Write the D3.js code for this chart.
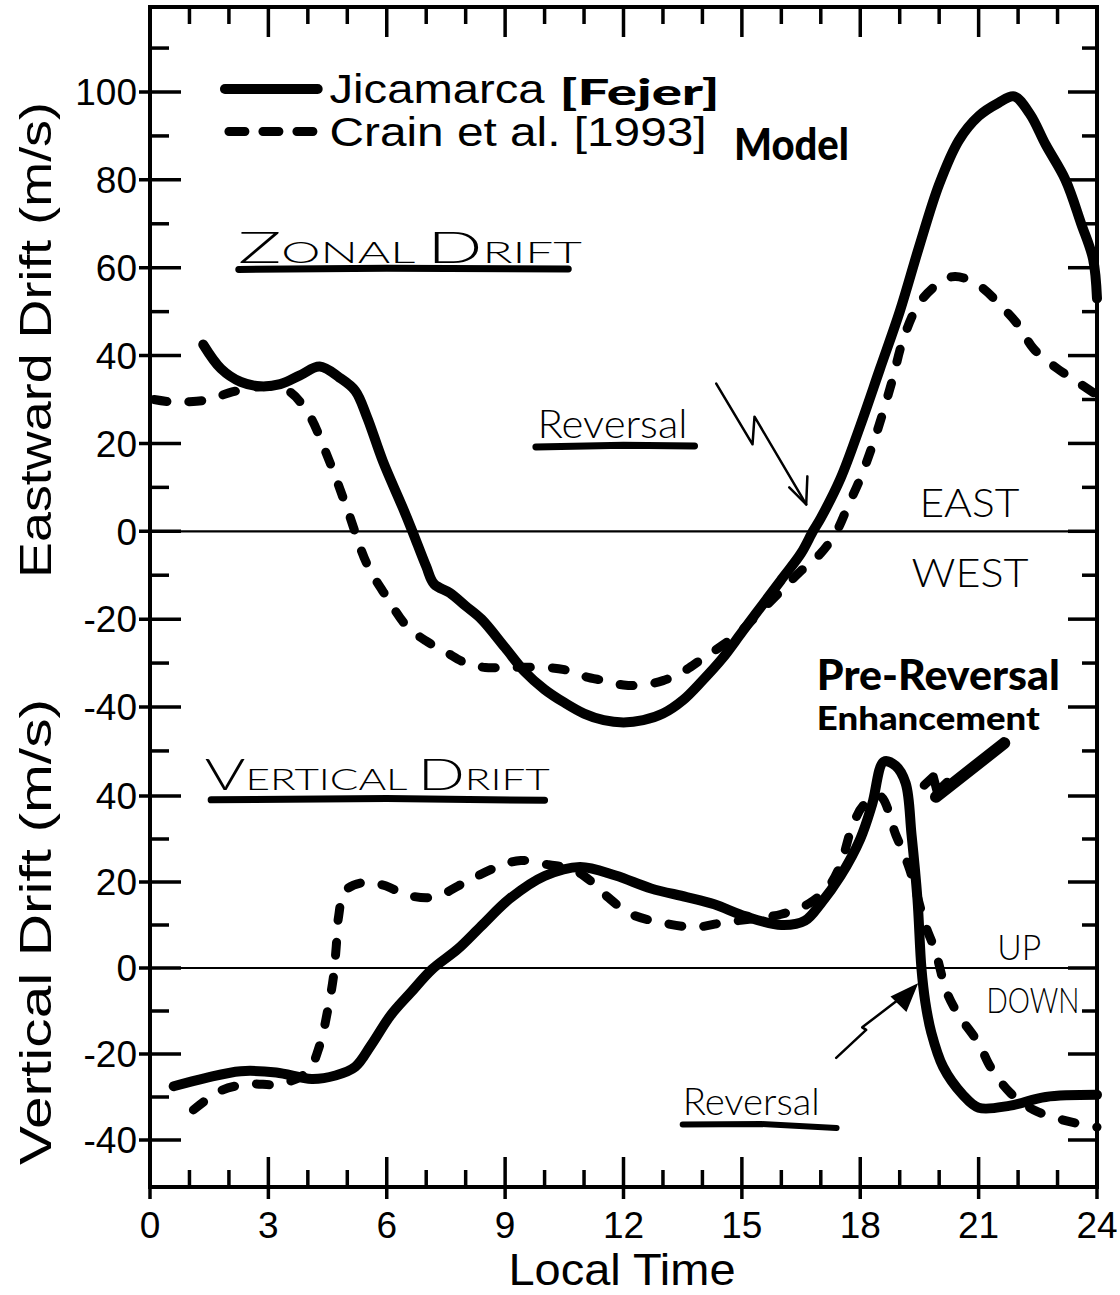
<!DOCTYPE html>
<html>
<head>
<meta charset="utf-8">
<script src="https://cdn.jsdelivr.net/npm/d3@7"></script>
<style>
  body { margin: 0; background: #fff; }
  text { fill: #000; }
</style>
</head>
<body>
<div id="container"></div>
<script>
const width = 1120,
      height = 1295,
      frame = { left: 150, right: 1097, top: 7, bottom: 1187 };

// [local time (h), drift (m/s)]
const zonalJicamarca = [
  [1.35, 42.5], [1.8, 37], [2.3, 34], [2.8, 33], [3.3, 33.5], [3.8, 35.5], [4.3, 37.5],
  [4.8, 35], [5.2, 32], [5.5, 26], [5.9, 16], [6.4, 5.5], [6.65, 0], [7.0, -8], [7.2, -12],
  [7.6, -14], [8.0, -17], [8.4, -20], [9.0, -26.5], [9.5, -32], [10.0, -36], [10.5, -39],
  [11.0, -41.5], [11.5, -43], [12.0, -43.5], [12.5, -43], [13.0, -41.5], [13.5, -38.5],
  [14.0, -34], [14.5, -29], [15.0, -23], [15.5, -17], [16.0, -11], [16.5, -5], [16.8, 0],
  [17.0, 3], [17.5, 12], [18.0, 24], [18.5, 37], [19.0, 50], [19.5, 65], [20.0, 79],
  [20.5, 89], [21.0, 94.5], [21.5, 97.5], [21.9, 99], [22.3, 95], [22.7, 88], [23.2, 80],
  [23.6, 70], [23.9, 62], [24.0, 53]
];
const zonalModel = [
  [0.1, 30], [0.5, 29.5], [1.0, 29.5], [1.5, 30], [2.0, 31.5], [2.5, 32.5], [3.0, 33],
  [3.5, 32], [4.0, 27], [4.5, 17], [5.0, 5], [5.5, -7.5], [6.0, -15], [6.5, -21.5],
  [7.0, -25], [7.5, -27.5], [8.0, -30], [8.5, -31], [9.0, -31], [10.0, -31], [10.5, -31.5],
  [11.0, -33], [11.5, -34], [12.0, -35], [12.5, -35], [13.0, -34], [13.5, -32], [14.0, -29],
  [14.5, -26], [15.0, -22.5], [15.5, -18], [16.0, -13.5], [16.5, -9], [17.0, -5], [17.4, 0],
  [17.7, 6], [18.0, 12], [18.4, 22], [18.8, 34], [19.1, 44], [19.5, 52], [20.0, 56.5],
  [20.4, 58], [21.0, 56], [21.6, 51], [22.0, 47], [22.4, 41.5], [23.0, 37], [23.5, 34],
  [24.0, 31]
];
const verticalJicamarca = [
  [0.6, -27.5], [1.4, -25.6], [2.3, -24], [3.2, -24.3], [4.1, -25.8], [4.7, -25], [5.2, -23],
  [5.6, -18], [6.1, -11], [6.6, -5.8], [7.15, -0.3], [7.8, 4.4], [8.4, 9.8], [9.1, 16],
  [10.0, 21.4], [10.9, 23.5], [11.8, 21.5], [12.7, 18.5], [13.6, 16.5], [14.3, 14.8],
  [15.1, 12], [16.0, 10], [16.6, 11], [17.0, 15], [17.5, 21.4], [18.0, 30], [18.3, 38],
  [18.6, 48], [18.9, 47], [19.15, 43], [19.3, 31], [19.45, 16], [19.55, 0], [19.65, -8],
  [19.8, -15], [20.1, -23], [20.6, -29.5], [21.0, -32.5], [21.8, -32], [22.7, -30],
  [24.0, -29.5]
];
const verticalModel = [
  [1.1, -33], [1.8, -28.5], [2.5, -27], [3.3, -27], [4.0, -24], [4.3, -18], [4.5, -10],
  [4.65, -2], [4.72, 5], [4.78, 12], [4.95, 18], [5.5, 20], [6.0, 19], [6.5, 17], [7.2, 16.5],
  [8.0, 20], [8.8, 23.5], [9.4, 25], [10.1, 24], [10.7, 23], [11.2, 20], [11.6, 16.5],
  [12.2, 12.5], [13.0, 10.5], [13.8, 9.5], [14.5, 10.5], [15.3, 11.5], [16.0, 12.5],
  [16.7, 15], [17.2, 19], [17.5, 24], [17.8, 33], [18.1, 38], [18.5, 40], [18.9, 31],
  [19.25, 23], [19.65, 10], [19.9, 4], [20.2, -5.8], [20.5, -11], [21.0, -17.5], [21.3, -23],
  [21.8, -29], [22.4, -33], [23.2, -35.5], [24.0, -37]
];

const hourTicks = d3.range(0, 25, 1);
const hourLabels = [0, 3, 6, 9, 12, 15, 18, 21, 24];
const zonalTicks = d3.range(-50, 111, 10);
const zonalLabels = [-40, -20, 0, 20, 40, 60, 80, 100];
const verticalTicks = d3.range(-40, 41, 10);
const verticalLabels = [-40, -20, 0, 20, 40];

var svg = d3.select("#container").append("svg")
    .attr("width", width)
    .attr("height", height)
    .style("display", "block");

var x = d3.scaleLinear().domain([0, 24]).range([frame.left, frame.right]);
var yZ = d3.scaleLinear().domain([-40, 100]).range([707, 92]);
var yV = d3.scaleLinear().domain([-40, 40]).range([1140, 796]);

const sans = "'Liberation Sans', Arial, Helvetica, sans-serif";
const hand = "Lato, 'Open Sans', sans-serif";

// frame
svg.append("rect")
    .attr("x", frame.left).attr("y", frame.top)
    .attr("width", frame.right - frame.left)
    .attr("height", frame.bottom - frame.top)
    .attr("fill", "none").attr("stroke", "#000").attr("stroke-width", 4);

// x ticks, top and bottom
hourTicks.forEach(function(h) {
    var major = h % 3 === 0;
    if (h === 0 || h === 24) return;
    svg.append("line")
        .attr("x1", x(h)).attr("x2", x(h))
        .attr("y1", frame.bottom + (major ? 12 : 0))
        .attr("y2", frame.bottom - (major ? 30 : 17))
        .attr("stroke", "#000").attr("stroke-width", 3.5);
    svg.append("line")
        .attr("x1", x(h)).attr("x2", x(h))
        .attr("y1", frame.top)
        .attr("y2", frame.top + (major ? 30 : 17))
        .attr("stroke", "#000").attr("stroke-width", 3.5);
});
// outer tick at 0 and 24 on bottom
[0, 24].forEach(function(h) {
    svg.append("line")
        .attr("x1", x(h)).attr("x2", x(h))
        .attr("y1", frame.bottom).attr("y2", frame.bottom + 12)
        .attr("stroke", "#000").attr("stroke-width", 3.5);
});

svg.append("g").selectAll("text")
    .data(hourLabels)
    .enter().append("text")
    .attr("x", function(d) { return x(d); })
    .attr("y", frame.bottom + 51)
    .attr("text-anchor", "middle")
    .style("font-family", sans).style("font-size", "37px")
    .text(function(d) { return d; });

// y ticks, left and right
function yTicks(scale, ticks, labels) {
    ticks.forEach(function(v) {
        var major = labels.indexOf(v) >= 0;
        svg.append("line")
            .attr("x1", frame.left - (major ? 11 : 0))
            .attr("x2", frame.left + (major ? 31 : 19))
            .attr("y1", scale(v)).attr("y2", scale(v))
            .attr("stroke", "#000").attr("stroke-width", 3.5);
        svg.append("line")
            .attr("x1", frame.right)
            .attr("x2", frame.right - (major ? 29 : 15))
            .attr("y1", scale(v)).attr("y2", scale(v))
            .attr("stroke", "#000").attr("stroke-width", 3.5);
    });
    svg.append("g").selectAll("text")
        .data(labels)
        .enter().append("text")
        .attr("x", frame.left - 13)
        .attr("y", function(d) { return scale(d); })
        .attr("dy", "0.36em")
        .attr("text-anchor", "end")
        .style("font-family", sans).style("font-size", "37px")
        .text(function(d) { return d; });
}
yTicks(yZ, zonalTicks, zonalLabels);
yTicks(yV, verticalTicks, verticalLabels);

// zero lines
[yZ(0), yV(0)].forEach(function(yy) {
    svg.append("line")
        .attr("x1", frame.left).attr("x2", frame.right)
        .attr("y1", yy).attr("y2", yy)
        .attr("stroke", "#000").attr("stroke-width", 2.2);
});

// axis titles
svg.append("text")
    .attr("transform", `translate(${35}, ${340}) rotate(-90)`)
    .attr("text-anchor", "middle").attr("dy", "0.36em")
    .attr("textLength", 476).attr("lengthAdjust", "spacingAndGlyphs")
    .style("font-family", sans).style("font-size", "44px")
    .text("Eastward Drift (m/s)");
svg.append("text")
    .attr("transform", `translate(${35}, ${932}) rotate(-90)`)
    .attr("text-anchor", "middle").attr("dy", "0.36em")
    .attr("textLength", 466).attr("lengthAdjust", "spacingAndGlyphs")
    .style("font-family", sans).style("font-size", "44px")
    .text("Vertical Drift (m/s)");
svg.append("text")
    .attr("x", 622).attr("y", 1285)
    .attr("text-anchor", "middle")
    .attr("textLength", 227).attr("lengthAdjust", "spacingAndGlyphs")
    .style("font-family", sans).style("font-size", "44px")
    .text("Local Time");

// curves
var lineZ = d3.line()
    .x(function(d) { return x(d[0]); })
    .y(function(d) { return yZ(d[1]); })
    .curve(d3.curveCatmullRom.alpha(0.5));
var lineV = d3.line()
    .x(function(d) { return x(d[0]); })
    .y(function(d) { return yV(d[1]); })
    .curve(d3.curveCatmullRom.alpha(0.5));

function solid(path) {
    return path.attr("fill", "none").attr("stroke", "#000")
        .attr("stroke-width", 10).attr("stroke-linecap", "round").attr("stroke-linejoin", "round");
}
function dashed(path) {
    return path.attr("fill", "none").attr("stroke", "#000")
        .attr("stroke-width", 9).attr("stroke-linecap", "round")
        .attr("stroke-dasharray", "13 22");
}

dashed(svg.append("path").datum(zonalModel).attr("d", lineZ));
solid(svg.append("path").datum(zonalJicamarca).attr("d", lineZ));
dashed(svg.append("path").datum(verticalModel).attr("d", lineV));
solid(svg.append("path").datum(verticalJicamarca).attr("d", lineV));

// legend
solid(svg.append("path").datum([[1.9, 100.7], [4.25, 100.7]]).attr("d", d3.line()
    .x(function(d) { return x(d[0]); }).y(function(d) { return yZ(d[1]); })));
dashed(svg.append("path").datum([[2.0, 91], [4.25, 91]]).attr("d", d3.line()
    .x(function(d) { return x(d[0]); }).y(function(d) { return yZ(d[1]); })))
    .attr("stroke-dasharray", "16 18");
svg.append("text")
    .attr("x", x(4.55)).attr("y", yZ(97.6))
    .attr("textLength", 215).attr("lengthAdjust", "spacingAndGlyphs")
    .style("font-family", sans).style("font-size", "40px")
    .text("Jicamarca");
svg.append("text")
    .attr("x", x(4.55)).attr("y", yZ(87.8))
    .attr("textLength", 377).attr("lengthAdjust", "spacingAndGlyphs")
    .style("font-family", sans).style("font-size", "40px")
    .text("Crain et al. [1993]");

// hand-written notes, positioned in data units
function note(t, h, v, scale, size, len, weight) {
    return svg.append("text")
        .attr("x", x(h)).attr("y", scale(v))
        .attr("textLength", len).attr("lengthAdjust", "spacingAndGlyphs")
        .style("font-family", hand).style("font-size", size + "px")
        .style("font-weight", weight || 300)
        .text(t);
}
function stroke(pts, scale, w) {
    return svg.append("path")
        .datum(pts)
        .attr("d", d3.line().x(function(d) { return x(d[0]); }).y(function(d) { return scale(d[1]); }))
        .attr("fill", "none").attr("stroke", "#000")
        .attr("stroke-width", w).attr("stroke-linecap", "round").attr("stroke-linejoin", "round");
}

note("[Fejer]", 10.38, 97.0, yZ, 36, 160, 900);
note("Model", 14.8, 84.6, yZ, 44, 115, 900);

var zonalTitle = note("", 2.23, 61.1, yZ, 30, 344, 300);
zonalTitle.append("tspan").style("font-size", "44px").text("Z");
zonalTitle.append("tspan").text("ONAL ");
zonalTitle.append("tspan").style("font-size", "44px").text("D");
zonalTitle.append("tspan").text("RIFT");
stroke([[2.25, 59.6], [6, 59.9], [10.6, 59.7]], yZ, 7);

note("Reversal", 9.82, 21.3, yZ, 40, 150, 300);
stroke([[9.78, 19.2], [12, 19.6], [13.8, 19.4]], yZ, 7);
stroke([[14.35, 33.6], [15.27, 19.8], [15.32, 26.1], [16.63, 6.1]], yZ, 2.5);
stroke([[16.2, 10], [16.63, 6.1], [16.66, 12.5]], yZ, 2.5);

note("EAST", 19.5, 3.2, yZ, 40, 100, 300);
note("WEST", 19.3, -12.7, yZ, 40, 117, 300);
note("Pre-Reversal", 16.9, -36.1, yZ, 42, 243, 900);
note("Enhancement", 16.9, -45.2, yZ, 32, 223, 900);

stroke([[21.65, 52.3], [19.92, 39.8]], yV, 12);
stroke([[19.62, 42.5], [19.85, 44.5], [19.95, 41], [20.2, 43.2]], yV, 9);

var verticalTitle = note("", 1.39, 41.4, yV, 30, 345, 300);
verticalTitle.append("tspan").style("font-size", "44px").text("V");
verticalTitle.append("tspan").text("ERTICAL ");
verticalTitle.append("tspan").style("font-size", "44px").text("D");
verticalTitle.append("tspan").text("RIFT");
stroke([[1.55, 39.1], [6, 39.4], [10.0, 39.0]], yV, 7);

note("UP", 21.47, 1.9, yV, 36, 44, 300);
note("DOWN", 21.2, -10.5, yV, 36, 93, 300);

note("Reversal", 13.5, -34.2, yV, 38, 137, 300);
stroke([[13.5, -36.4], [15.5, -36.3], [17.4, -37.2]], yV, 6);
stroke([[17.39, -20.9], [18.15, -14.4], [18.05, -13.8], [19.3, -5.0]], yV, 2.5);
svg.append("path")
    .datum([[19.42, -4], [18.81, -6.7], [19.16, -9.8]])
    .attr("d", d3.line().x(function(d) { return x(d[0]); }).y(function(d) { return yV(d[1]); }).curve(d3.curveLinearClosed))
    .attr("fill", "#000").attr("stroke", "#000").attr("stroke-width", 2);
</script>
</body>
</html>
